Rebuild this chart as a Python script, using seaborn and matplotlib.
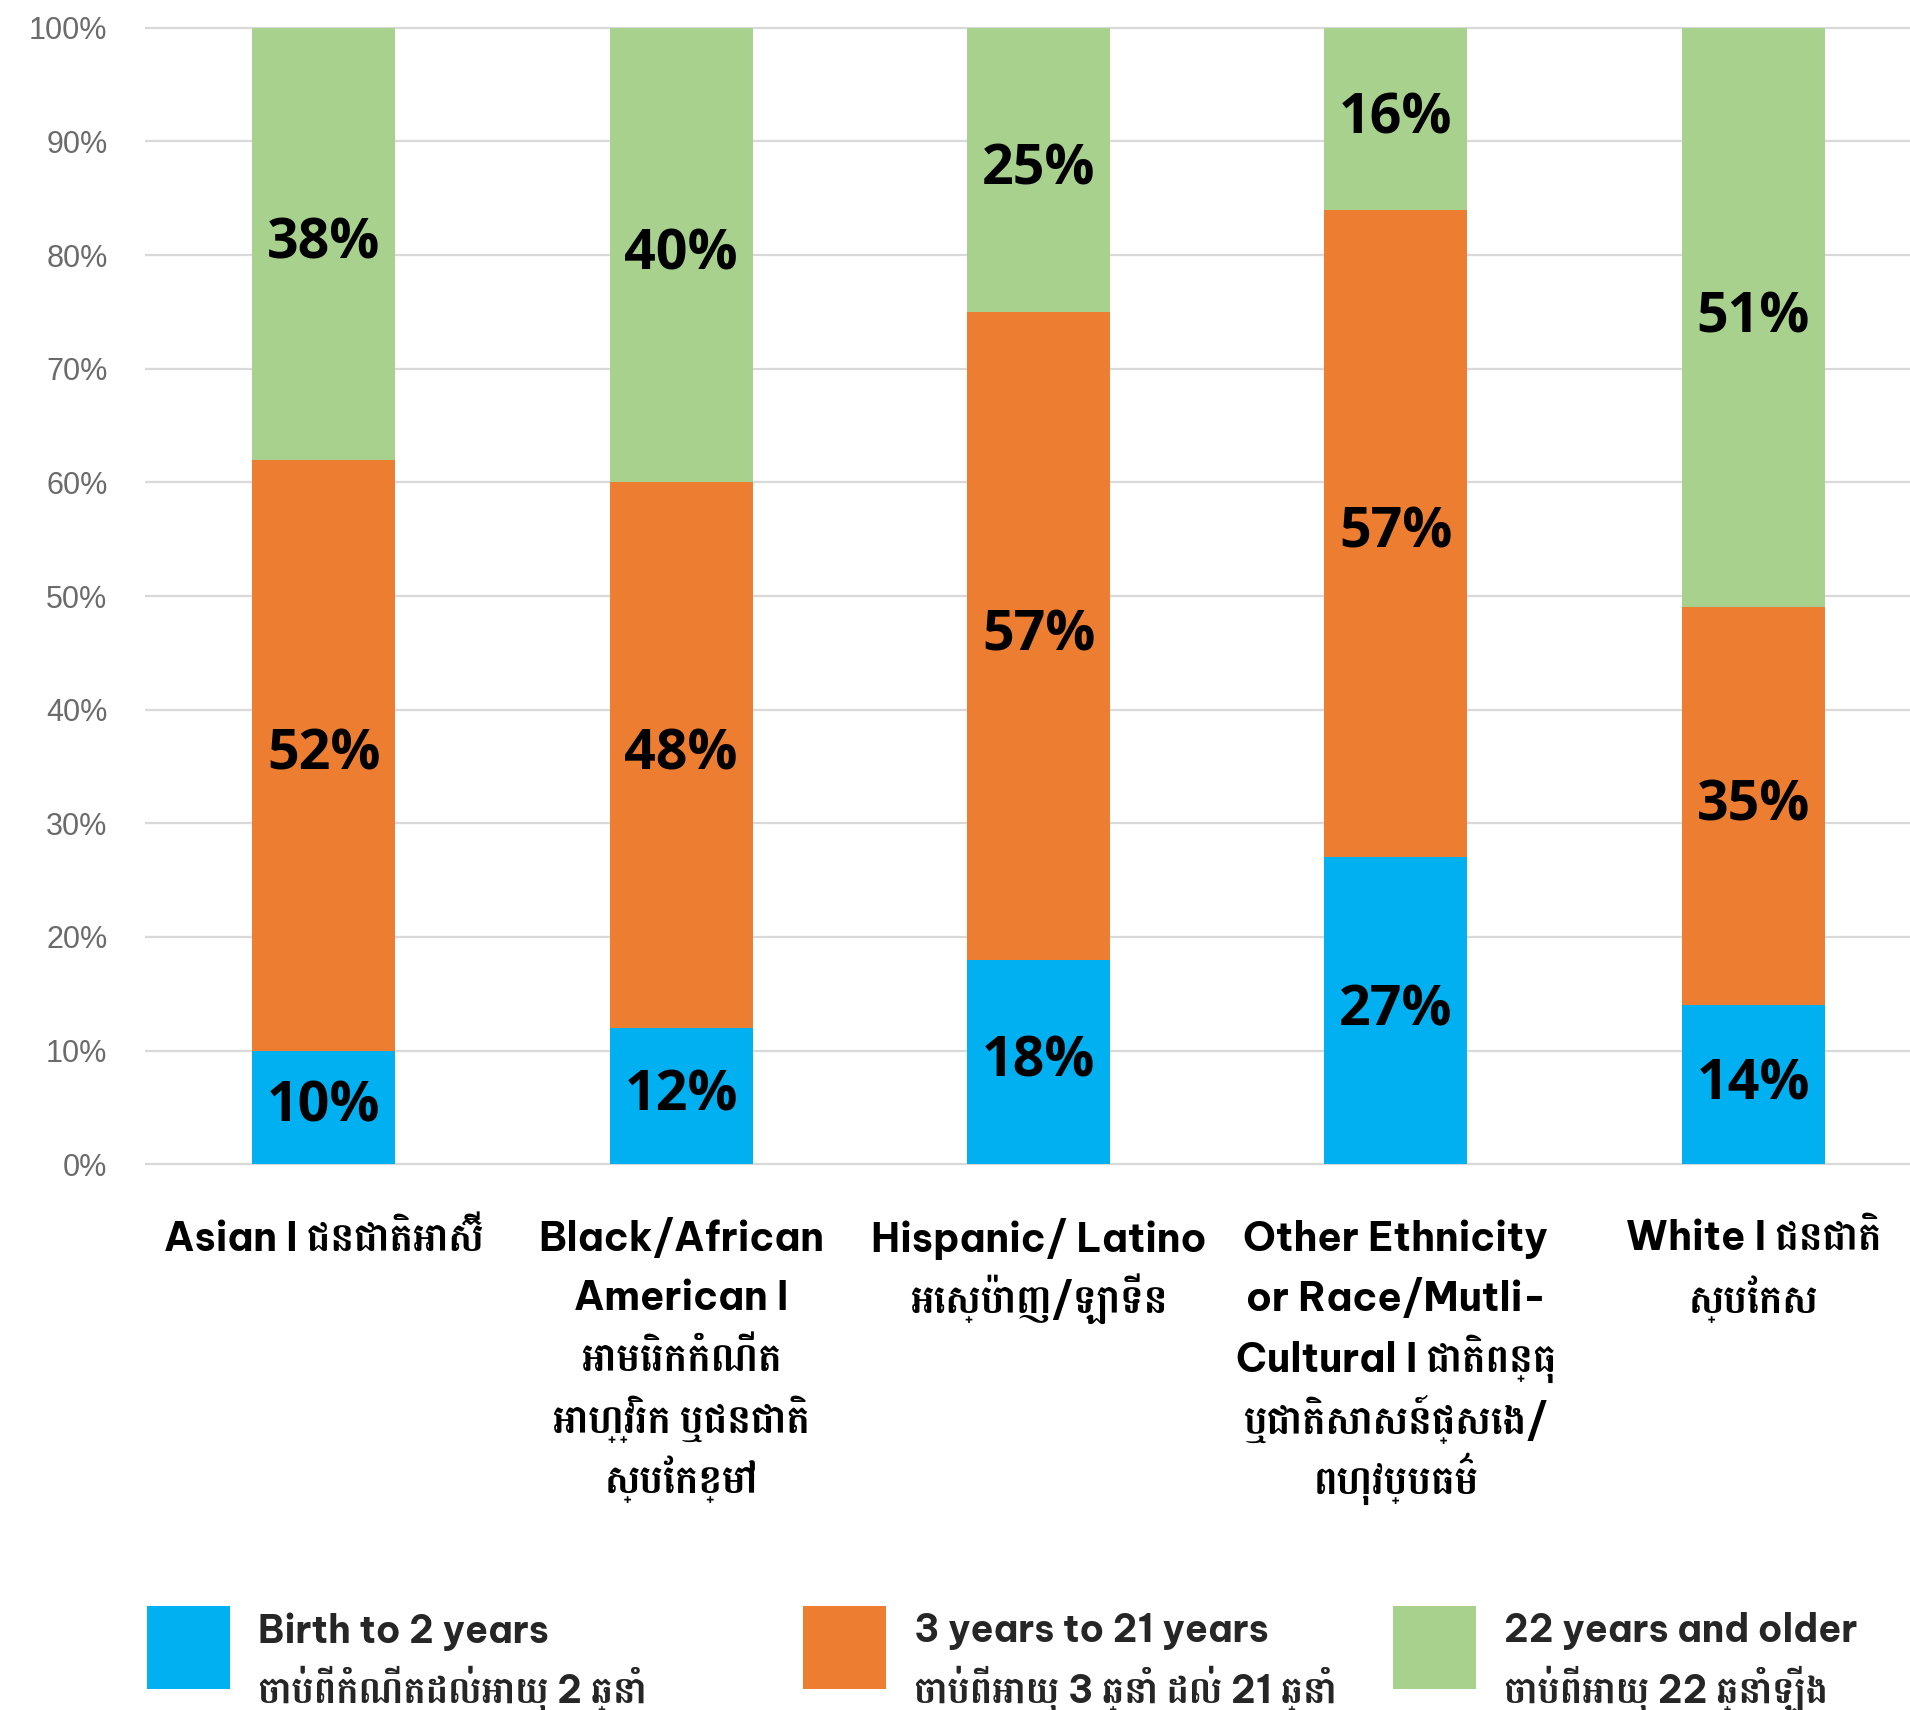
import pandas as pd
import matplotlib
matplotlib.use("Agg")
import matplotlib.pyplot as plt
import seaborn as sns

from matplotlib import font_manager
from matplotlib.patches import Patch, Rectangle
from matplotlib.legend_handler import HandlerPatch

# ==========================================================
# Data
# ==========================================================

CATEGORIES = [
    "Asian I ជនជាតិអាស៊ី",
    "Black/African\nAmerican I\nអាមេរិកកំណើត\nអាហ្វ្រិក ឬជនជាតិ\nស្បែកខ្មៅ",
    "Hispanic/ Latino\nអេស្ប៉ាញ/ឡាទីន",
    "Other Ethnicity\nor Race/Mutli-\nCultural I ជាតិពន្ធុ\nឬជាតិសាសន៍ផ្សេង/\nពហុវប្បធម៌",
    "White I ជនជាតិ\nស្បែកស",
]

BIRTH_TO_2 = [10, 12, 18, 27, 14]
AGE_3_TO_21 = [52, 48, 57, 57, 35]
AGE_22_PLUS = [38, 40, 25, 16, 51]

SERIES_LABELS = [
    "Birth to 2 years\nចាប់ពីកំណើតដល់អាយុ 2 ឆ្នាំ",
    "3 years to 21 years\nចាប់ពីអាយុ 3 ឆ្នាំ ដល់ 21 ឆ្នាំ",
    "22 years and older\nចាប់ពីអាយុ 22 ឆ្នាំឡើង",
]

Y_TICKS = [0, 10, 20, 30, 40, 50, 60, 70, 80, 90, 100]

# ==========================================================
# Style
# ==========================================================

BLUE = "#00B0F0"
ORANGE = "#ED7D31"
GREEN = "#A9D18E"
GRID = "#D9D9D9"
TICK_GREY = "#6B6B6B"

W, H = 1910, 1710
PT = 72 / 100           # points per pixel at dpi 100
SWATCH = 83 * PT        # legend square side
SWATCH_LIFT = -11 * PT  # square bottom relative to the last text baseline


def PickFont(candidates):
    names = {f.name for f in font_manager.fontManager.ttflist}
    for name in candidates:
        if name in names:
            return name
    return "DejaVu Sans"


def SquareSwatch(legend, orig_handle, xdescent, ydescent, width, height, fontsize):
    # big square key, lined up with the two label lines
    return Rectangle((-xdescent, SWATCH_LIFT), SWATCH, SWATCH)


def main():

    sns.set_theme(style="whitegrid")

    latin = PickFont(["Be Vietnam Pro", "Figtree", "Inter", "Open Sans"])
    khmer = PickFont(["Battambang", "Koh Santepheap", "Content", "Noto Sans Khmer"])
    label_font = PickFont(["Open Sans", "Lato"])
    tick_font = PickFont(["Liberation Sans", "Carlito"])

    text_family = [latin, khmer, "DejaVu Sans"]
    plt.rcParams["font.family"] = text_family

    df = pd.DataFrame({
        "group": CATEGORIES,
        "birth": BIRTH_TO_2,
        "mid": AGE_3_TO_21,
        "older": AGE_22_PLUS,
    })
    df["top_mid"] = df["birth"] + df["mid"]
    df["top_older"] = df["top_mid"] + df["older"]

    fig = plt.figure(figsize=(W / 100, H / 100), dpi=100)
    ax = fig.add_axes([145 / W, 544 / H, 1787 / W, 1140 / H])

    # stacked bars drawn as overlapping cumulative totals
    for col, colour in [("top_older", GREEN), ("top_mid", ORANGE), ("birth", BLUE)]:
        sns.barplot(
            data=df, x="group", y=col, order=CATEGORIES,
            color=colour, saturation=1, width=0.4,
            linewidth=0, errorbar=None, ax=ax
        )

    # segment labels
    for i, row in df.iterrows():
        bottoms = [0, row["birth"], row["top_mid"]]
        values = [row["birth"], row["mid"], row["older"]]
        for b, v in zip(bottoms, values):
            ax.text(
                i, b + v / 2, f"{v}%",
                ha="center", va="center",
                fontsize=40, fontweight="bold",
                family=[label_font], color="black"
            )

    ax.set_xlim(-0.5, len(CATEGORIES) - 0.5)
    ax.set_ylim(-0.15, 100.15)

    ax.set_yticks(Y_TICKS)
    ax.set_yticklabels([f"{t}%" for t in Y_TICKS], family=[tick_font],
                       fontsize=22, color=TICK_GREY)
    ax.tick_params(axis="y", length=0, pad=27)

    # category names, one line at a time so the line pitch stays even
    ax.set_xticks(range(len(CATEGORIES)))
    ax.set_xticklabels([""] * len(CATEGORIES))
    ax.tick_params(axis="x", length=0)
    for i, label in enumerate(CATEGORIES):
        for j, line in enumerate(label.split("\n")):
            ax.annotate(
                line, xy=(i, 0), xycoords=ax.get_xaxis_transform(),
                xytext=(0, -(73 + 60 * j) * PT), textcoords="offset points",
                ha="center", va="center", annotation_clip=False,
                fontsize=28.5, fontweight="bold", color="black",
                family=text_family
            )

    ax.xaxis.grid(False)
    ax.yaxis.grid(True, color=GRID, linewidth=1.6)
    ax.set_axisbelow(True)

    ax.set_xlabel("")
    ax.set_ylabel("")

    for spine in ax.spines.values():
        spine.set_visible(False)

    # legend, one block per series
    legend_x = [147, 803, 1393]
    for colour, label, x in zip([BLUE, ORANGE, GREEN], SERIES_LABELS, legend_x):
        leg = fig.legend(
            handles=[Patch(facecolor=colour, edgecolor="none")],
            labels=[label],
            handler_map={Patch: HandlerPatch(patch_func=SquareSwatch)},
            loc="center left",
            bbox_to_anchor=(x / W, 1 - 1663 / H),
            frameon=False,
            borderpad=0,
            borderaxespad=0,
            handlelength=SWATCH / 27,
            handleheight=0.7,
            handletextpad=0.75,
            prop={"family": text_family, "weight": "bold", "size": 27},
        )
        for t in leg.get_texts():
            t.set_linespacing(1.4)

    fig.savefig("out.png", dpi=100)
    plt.close(fig)


if __name__ == "__main__":
    main()
